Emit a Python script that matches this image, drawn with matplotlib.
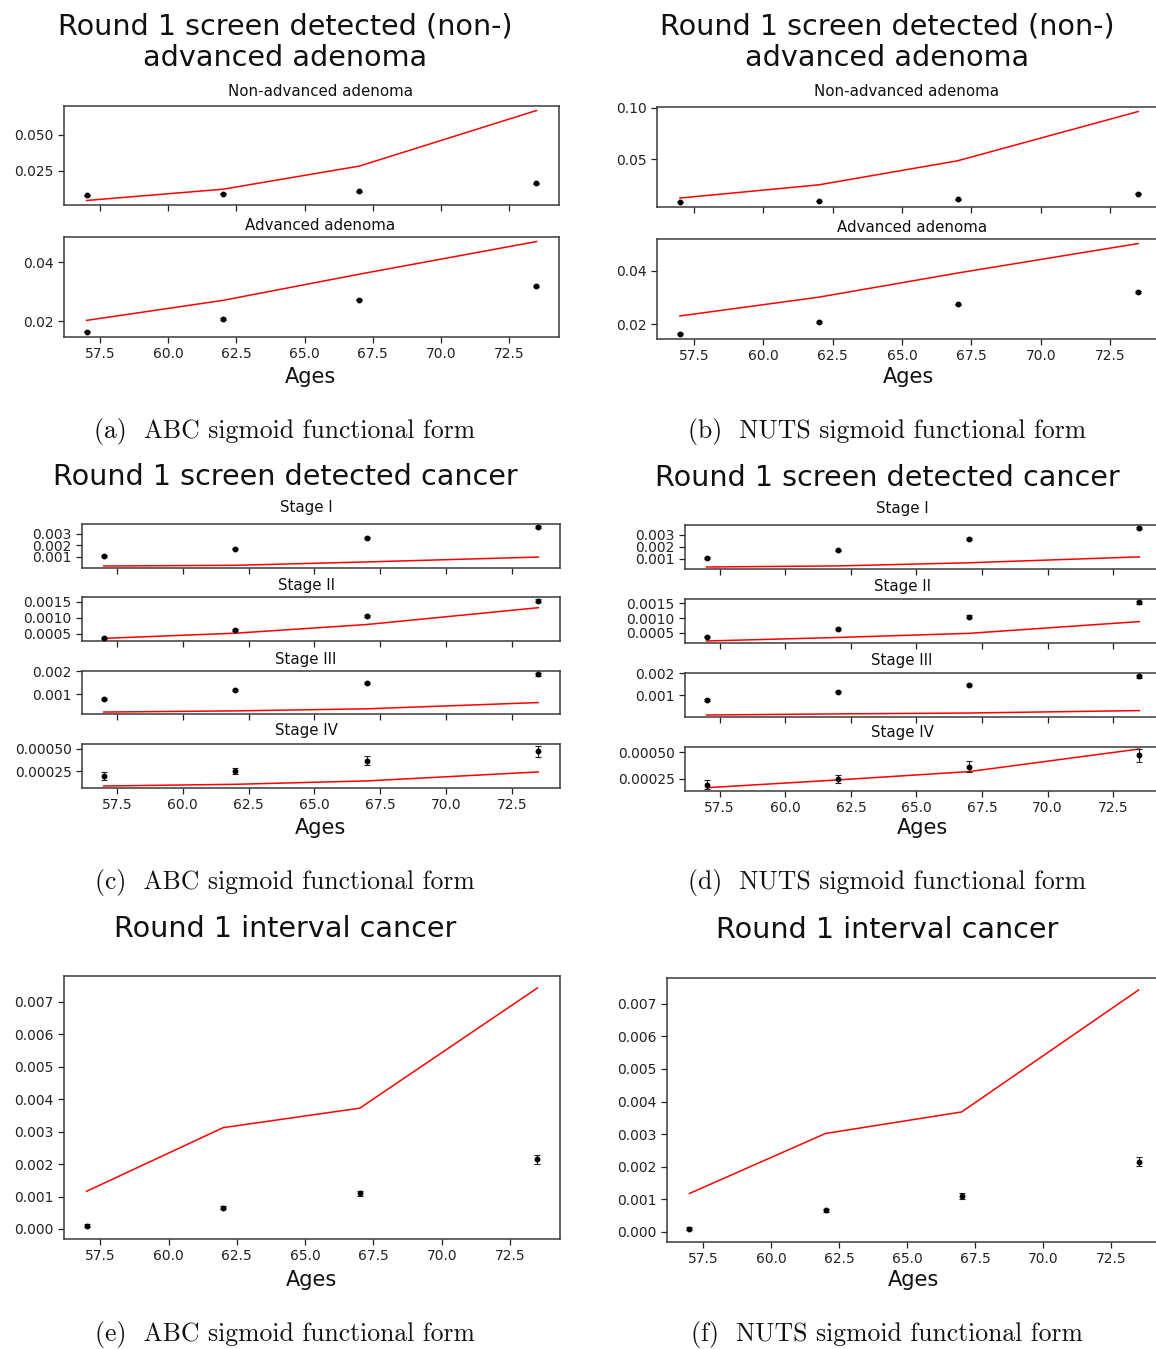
import matplotlib
matplotlib.use("Agg")
import matplotlib.pyplot as plt

# ---------------------------------------------------------------------------
# Data
# ---------------------------------------------------------------------------
ages = [57, 62, 67, 73.5]

# Observed round-1 rates with uncertainty
obs_nonadv_adenoma = [0.0080, 0.0090, 0.0107, 0.0163]
err_nonadv_adenoma = [0.0003, 0.0003, 0.0003, 0.0004]
obs_adv_adenoma = [0.0165, 0.0209, 0.0274, 0.0320]
err_adv_adenoma = [0.0003, 0.0003, 0.0003, 0.0004]

obs_stage1 = [0.00106, 0.00170, 0.00262, 0.00355]
err_stage1 = [0.00007, 0.00007, 0.00008, 0.00010]
obs_stage2 = [0.00037, 0.00062, 0.00105, 0.00153]
err_stage2 = [0.00003, 0.00004, 0.00004, 0.00005]
obs_stage3 = [0.00080, 0.00117, 0.00148, 0.00186]
err_stage3 = [0.00004, 0.00004, 0.00005, 0.00006]
obs_stage4 = [0.000195, 0.000250, 0.000365, 0.000470]
err_stage4 = [0.000040, 0.000037, 0.000050, 0.000060]

obs_interval = [0.00010, 0.00066, 0.00110, 0.00215]
err_interval = [0.00004, 0.00005, 0.00008, 0.00014]

# Model predictions, ABC fit
abc_nonadv_adenoma = [0.0044, 0.0122, 0.0282, 0.0667]
abc_adv_adenoma = [0.0203, 0.0271, 0.0360, 0.0471]
abc_stage1 = [0.00021, 0.00027, 0.00056, 0.00098]
abc_stage2 = [0.00036, 0.00052, 0.00079, 0.00131]
abc_stage3 = [0.00023, 0.00028, 0.00037, 0.00064]
abc_stage4 = [0.000083, 0.000102, 0.000140, 0.000240]
abc_interval = [0.00116, 0.00312, 0.00372, 0.00742]

# Model predictions, NUTS fit
nuts_nonadv_adenoma = [0.0120, 0.0249, 0.0484, 0.0965]
nuts_adv_adenoma = [0.0231, 0.0301, 0.0391, 0.0501]
nuts_stage1 = [0.00033, 0.00042, 0.00068, 0.00117]
nuts_stage2 = [0.00022, 0.00034, 0.00048, 0.00088]
nuts_stage3 = [0.00011, 0.00016, 0.00020, 0.00031]
nuts_stage4 = [0.000167, 0.000240, 0.000318, 0.000530]
nuts_interval = [0.00118, 0.00302, 0.00368, 0.00742]

# Axis ticks
x_ticks = [57.5, 60.0, 62.5, 65.0, 67.5, 70.0, 72.5]
x_tick_labels = ["57.5", "60.0", "62.5", "65.0", "67.5", "70.0", "72.5"]

abc_nonadv_ticks = [0.025, 0.050]
abc_nonadv_labels = ["0.025", "0.050"]
nuts_nonadv_ticks = [0.05, 0.10]
nuts_nonadv_labels = ["0.05", "0.10"]
adv_ticks = [0.02, 0.04]
adv_labels = ["0.02", "0.04"]
stage1_ticks = [0.001, 0.002, 0.003]
stage1_labels = ["0.001", "0.002", "0.003"]
stage2_ticks = [0.0005, 0.0010, 0.0015]
stage2_labels = ["0.0005", "0.0010", "0.0015"]
stage3_ticks = [0.001, 0.002]
stage3_labels = ["0.001", "0.002"]
stage4_ticks = [0.00025, 0.00050]
stage4_labels = ["0.00025", "0.00050"]
interval_ticks = [0.000, 0.001, 0.002, 0.003, 0.004, 0.005, 0.006, 0.007]
interval_labels = ["0.000", "0.001", "0.002", "0.003", "0.004", "0.005", "0.006", "0.007"]

adenoma_titles = ["Non-advanced adenoma", "Advanced adenoma"]
stage_titles = ["Stage I", "Stage II", "Stage III", "Stage IV"]

# ---------------------------------------------------------------------------
# Figure
# ---------------------------------------------------------------------------
W, H = 1156, 1349
fig = plt.figure(figsize=(W / 100, H / 100), dpi=100)
fig.patch.set_facecolor("white")

SPINE = "#3a3a3a"


def box(l, t, r, b):
    return [l / W, 1 - b / H, (r - l) / W, (b - t) / H]


def ftext(x, y, s, **kw):
    fig.text(x / W, 1 - y / H, s, ha="center", va="center", **kw)


def panel(rect, obs, err, model, yticks, ylabels, show_x):
    ax = fig.add_axes(box(*rect))
    ax.plot(ages, model, color="red", lw=1.1, zorder=2)
    ax.errorbar(ages, obs, yerr=err, fmt="o", color="black", ms=3.2,
                capsize=2.5, elinewidth=0.8, capthick=0.8, ecolor="#222222",
                zorder=3)
    ax.set_xticks(x_ticks)
    if show_x:
        ax.set_xticklabels(x_tick_labels)
    else:
        ax.set_xticklabels([])
    ax.set_yticks(yticks)
    ax.set_yticklabels(ylabels)
    ax.tick_params(labelsize=10, length=4, width=0.9, colors="#222222")
    for sp in ax.spines.values():
        sp.set_color(SPINE)
        sp.set_linewidth(1.1)
    return ax


title_kw = dict(fontsize=20.6, color="#111111")
sub_kw = dict(fontsize=10.8, color="#111111")
ages_kw = dict(fontsize=15, color="#111111")
cap_kw = dict(fontsize=18.5, family="cmr10", color="#111111")

# ---- (a) ABC adenoma --------------------------------------------------------
ftext(285, 26, "Round 1 screen detected (non-)", **title_kw)
ftext(285, 58, "advanced adenoma", **title_kw)
ftext(320, 91, adenoma_titles[0], **sub_kw)
panel((64, 106, 559, 205), obs_nonadv_adenoma, err_nonadv_adenoma,
      abc_nonadv_adenoma, abc_nonadv_ticks, abc_nonadv_labels, False)
ftext(320, 226, adenoma_titles[1], **sub_kw)
panel((64, 237, 559, 337), obs_adv_adenoma, err_adv_adenoma,
      abc_adv_adenoma, adv_ticks, adv_labels, True)
ftext(310, 377, "Ages", **ages_kw)
ftext(285, 431, "(a)  ABC sigmoid functional form", **cap_kw)

# ---- (b) NUTS adenoma -------------------------------------------------------
ftext(887, 26, "Round 1 screen detected (non-)", **title_kw)
ftext(887, 58, "advanced adenoma", **title_kw)
ftext(907, 92, adenoma_titles[0], **sub_kw)
panel((657, 107, 1161, 207), obs_nonadv_adenoma, err_nonadv_adenoma,
      nuts_nonadv_adenoma, nuts_nonadv_ticks, nuts_nonadv_labels, False)
ftext(912, 227, adenoma_titles[1], **sub_kw)
panel((657, 239, 1161, 339), obs_adv_adenoma, err_adv_adenoma,
      nuts_adv_adenoma, adv_ticks, adv_labels, True)
ftext(908, 377, "Ages", **ages_kw)
ftext(887, 431, "(b)  NUTS sigmoid functional form", **cap_kw)

# ---- (c) ABC stage-specific cancer ------------------------------------------
ftext(285, 477, "Round 1 screen detected cancer", **title_kw)
stage_obs = [obs_stage1, obs_stage2, obs_stage3, obs_stage4]
stage_err = [err_stage1, err_stage2, err_stage3, err_stage4]
stage_ticks = [stage1_ticks, stage2_ticks, stage3_ticks, stage4_ticks]
stage_labels = [stage1_labels, stage2_labels, stage3_labels, stage4_labels]
abc_stage = [abc_stage1, abc_stage2, abc_stage3, abc_stage4]
nuts_stage = [nuts_stage1, nuts_stage2, nuts_stage3, nuts_stage4]

c_rows = [(524, 568), (597, 641), (671, 714), (744, 788)]
c_titles_y = [508, 585, 659, 731]
for i in range(4):
    ftext(306, c_titles_y[i], stage_titles[i], **sub_kw)
    t, b = c_rows[i]
    panel((82, t, 560, b), stage_obs[i], stage_err[i], abc_stage[i],
          stage_ticks[i], stage_labels[i], i == 3)
ftext(320, 828, "Ages", **ages_kw)
ftext(285, 883, "(c)  ABC sigmoid functional form", **cap_kw)

# ---- (d) NUTS stage-specific cancer -----------------------------------------
ftext(887, 478, "Round 1 screen detected cancer", **title_kw)
d_rows = [(525, 569), (599, 643), (673, 717), (747, 791)]
d_titles_y = [509, 586, 661, 733]
for i in range(4):
    ftext(902, d_titles_y[i], stage_titles[i], **sub_kw)
    t, b = d_rows[i]
    panel((685, t, 1161, b), stage_obs[i], stage_err[i], nuts_stage[i],
          stage_ticks[i], stage_labels[i], i == 3)
ftext(922, 828, "Ages", **ages_kw)
ftext(887, 883, "(d)  NUTS sigmoid functional form", **cap_kw)

# ---- (e) ABC interval cancer ------------------------------------------------
ftext(285, 929, "Round 1 interval cancer", **title_kw)
panel((64, 976, 560, 1239), obs_interval, err_interval, abc_interval,
      interval_ticks, interval_labels, True)
ftext(311, 1280, "Ages", **ages_kw)
ftext(285, 1335, "(e)  ABC sigmoid functional form", **cap_kw)

# ---- (f) NUTS interval cancer -----------------------------------------------
ftext(887, 930, "Round 1 interval cancer", **title_kw)
panel((667, 978, 1161, 1242), obs_interval, err_interval, nuts_interval,
      interval_ticks, interval_labels, True)
ftext(913, 1280, "Ages", **ages_kw)
ftext(887, 1335, "(f)  NUTS sigmoid functional form", **cap_kw)

fig.savefig("out.png", dpi=100, facecolor="white")
